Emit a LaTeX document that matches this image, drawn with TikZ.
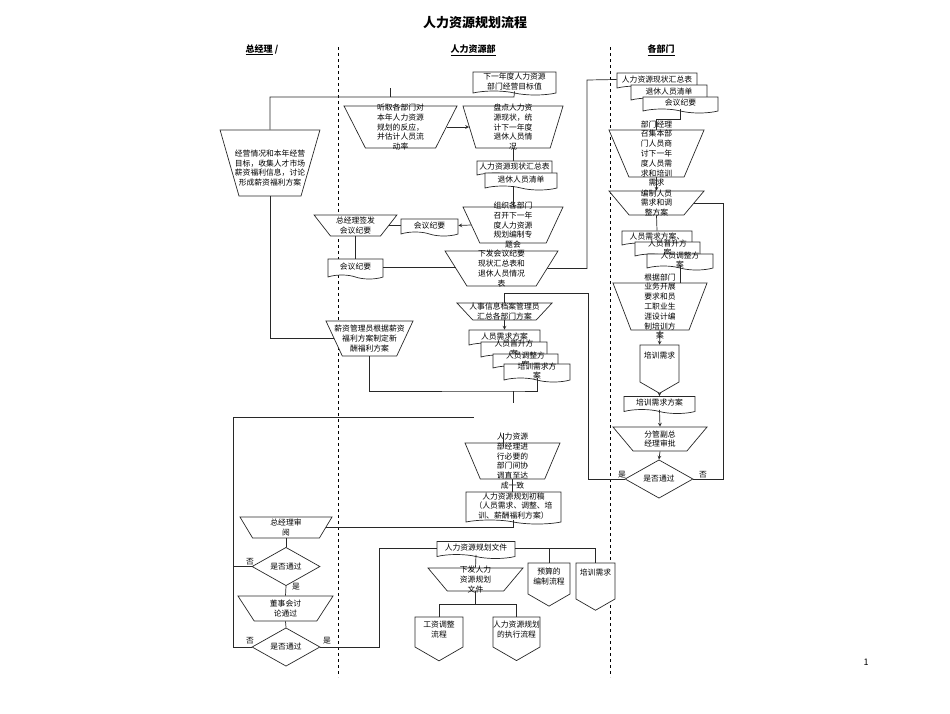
\documentclass[tikz,border=0pt]{standalone}
\usepackage{fontspec}
\setmainfont{Noto Sans CJK SC}
\usetikzlibrary{arrows,shapes,positioning}
\definecolor{lncol}{RGB}{40,40,40}
\tikzstyle{txt} = [font=\fontsize{7.8}{9.8}\selectfont, align=center, inner sep=0pt, text=black]
\tikzstyle{hdr} = [font=\fontsize{9}{11}\selectfont\bfseries, inner sep=0pt]
\tikzstyle{conn} = [line width=0.7pt, draw=lncol]
\tikzstyle{arrow} = [line width=0.7pt, draw=lncol, ->, >=stealth]
\tikzstyle{lane} = [dashed, line width=0.7pt, black]
\tikzstyle{proc} = [trapezium, shape border rotate=180, draw=lncol, fill=white, line width=0.7pt]
\tikzstyle{docu} = [tape, tape bend top=none, tape bend bottom=out and in, tape bend height=4pt, draw=lncol, fill=white, line width=0.7pt, inner sep=0pt, font=\fontsize{7.8}{9.8}\selectfont, align=center]
\tikzstyle{offpage} = [signal, signal to=south, signal from=nowhere, signal pointer angle=120, draw=lncol, fill=white, line width=0.7pt, inner sep=0pt]
\tikzstyle{decide} = [diamond, minimum width=68pt, minimum height=23pt, draw=lncol, fill=white, line width=0.7pt, inner sep=0pt, font=\fontsize{7.8}{9.8}\selectfont]

\begin{document}
\begin{tikzpicture}[x=1pt, y=-1pt]
    \useasboundingbox (0,0) rectangle (950,713);

    % Title and lanes
    \node[font=\fontsize{13}{15}\selectfont\bfseries] (title) at (475,23) {人力资源规划流程};
    \node[hdr] (laneGM) at (262,50) {\underline{总经理} /};
    \node[hdr] (laneHR) at (473,50) {\underline{人力资源部}};
    \node[hdr] (laneDP) at (661,50) {\underline{各部门}};
    \coordinate (sepA1) at (338,47);
    \coordinate (sepA2) at (338,677);
    \coordinate (sepB1) at (610,47);
    \coordinate (sepB2) at (610,677);
    \draw[lane] (sepA1) -- (sepA2);
    \draw[lane] (sepB1) -- (sepB2);
    \node[font=\fontsize{9}{10}\selectfont] (pageno) at (866,662) {1};

    % General manager lane
    \node[proc, inner xsep=31pt, inner ysep=33pt, trapezium angle=74, label={[txt, yshift=-5pt]center:{经营情况和本年经营\\目标，收集人才市场\\薪资福利信息，讨论\\形成薪资福利方案}}] (gmPlan) at (270,163) {};
    \node[proc, inner xsep=25pt, inner ysep=10.5pt, trapezium angle=52, label={[txt]center:{总经理签发\\会议纪要}}] (sign) at (355.5,225.5) {};
    \node[docu, minimum width=55pt, minimum height=20pt] (minDoc2) at (355.5,267) {会议纪要};
    \node[proc, inner xsep=27.2pt, inner ysep=17.5pt, trapezium angle=65, label={[txt]center:{薪资管理员根据薪资\\福利方案制定新\\酬福利方案}}] (salary) at (369.5,338.5) {};
    \node[proc, inner xsep=33.4pt, inner ysep=10.5pt, trapezium angle=59, label={[txt]center:{总经理审\\阅}}] (gmReview) at (286,527.5) {};
    \node[decide] (gmOk1) at (286,566.5) {是否通过};
    \node[proc, inner xsep=31.3pt, inner ysep=12.5pt, trapezium angle=57, label={[txt]center:{董事会讨\\论通过}}] (board) at (285.5,608.5) {};
    \node[decide] (gmOk2) at (286,647) {是否通过};
    \node[txt] (gmNo1) at (250,562) {否};
    \node[txt] (gmYes1) at (296,587) {是};
    \node[txt] (gmNo2) at (250,641) {否};
    \node[txt] (gmYes2) at (327,641) {是};

    % HR lane
    \node[docu, minimum width=83pt, minimum height=23pt] (goalDoc) at (514.5,81.5) {下一年度人力资源\\部门经营目标值};
    \node[proc, inner xsep=35.1pt, inner ysep=21pt, trapezium angle=63, label={[txt]center:{听取各部门对\\本年人力资源\\规划的反应，\\并估计人员流\\动率}}] (listen) at (400.5,127) {};
    \node[proc, inner xsep=37.2pt, inner ysep=21pt, trapezium angle=73, label={[txt]center:{盘点人力资\\源现状，统\\计下一年度\\退休人员情\\况}}] (count) at (513,127) {};
    \node[docu, minimum width=75pt, minimum height=16pt] (curDoc) at (514.5,167) {人力资源现状汇总表};
    \node[docu, minimum width=72pt, minimum height=17pt] (retDoc) at (521,179.5) {退休人员清单};
    \node[proc, inner xsep=33.2pt, inner ysep=18pt, trapezium angle=65, label={[txt]center:{组织各部门\\召开下一年\\度人力资源\\规划编制专\\题会}}] (meet) at (513,225) {};
    \node[docu, minimum width=57pt, minimum height=17pt] (minDoc1) at (429.5,225.5) {会议纪要};
    \node[proc, inner xsep=34.6pt, inner ysep=17.5pt, trapezium angle=58, label={[txt]center:{下发会议纪要\\现状汇总表和\\退休人员情况\\表}}] (issue) at (501.5,268.5) {};
    \node[proc, inner xsep=31.7pt, inner ysep=8.5pt, trapezium angle=47, label={[txt]center:{人事信息档案管理员\\汇总各部门方案}}] (archive) at (504.5,311.5) {};
    \node[docu, minimum width=71pt, minimum height=17pt] (needDoc) at (504.5,336.5) {人员需求方案};
    \node[docu, minimum width=66pt, minimum height=17pt, label={[txt]center:{人员晋升方\\案}}] (promDoc) at (514,348.5) {};
    \node[docu, minimum width=65pt, minimum height=16pt, label={[txt]center:{人员调整方\\案}}] (adjDoc) at (525.5,360) {};
    \node[docu, minimum width=66pt, minimum height=18pt, label={[txt]center:{培训需求方\\案}}] (trainDoc) at (537,371) {};
    \node[proc, inner xsep=32.2pt, inner ysep=18pt, trapezium angle=67, label={[txt]center:{人力资源\\部经理进\\行必要的\\部门间协\\调直至达\\成一致}}] (coord) at (512.5,461) {};
    \node[docu, minimum width=95pt, minimum height=32pt] (draftDoc) at (513.5,506) {人力资源规划初稿\\（人员需求、调整、培\\训、薪酬福利方案）};
    \node[docu, minimum width=78pt, minimum height=17pt] (planDoc) at (476,548) {人力资源规划文件};
    \node[proc, inner xsep=28.2pt, inner ysep=11.5pt, trapezium angle=50, label={[txt]center:{下发人力\\资源规划\\文件}}] (publish) at (475.5,579.5) {};
    \node[offpage, minimum width=48pt, minimum height=30pt, label={[txt, anchor=north, yshift=-4pt]north:{工资调整\\流程}}] (wageFlow) at (439,632) {};
    \node[offpage, minimum width=47pt, minimum height=30pt, label={[txt, anchor=north, yshift=-4pt]north:{人力资源规划\\的执行流程}}] (execFlow) at (516.5,632) {};
    \node[offpage, minimum width=42pt, minimum height=31pt, label={[txt, anchor=north, yshift=-5pt]north:{预算的\\编制流程}}] (budgetFlow) at (549,578.5) {};
    \node[offpage, minimum width=39pt, minimum height=36pt, label={[txt, anchor=north, yshift=-6pt]north:{培训需求}}] (trainFlow) at (595.5,581) {};

    % Department lane
    \node[docu, minimum width=80pt, minimum height=17pt] (curDoc2) at (657,79.5) {人力资源现状汇总表};
    \node[docu, minimum width=76pt, minimum height=17pt] (retDoc2) at (669,91.5) {退休人员清单};
    \node[docu, minimum width=75pt, minimum height=16pt] (minDoc3) at (680.5,103) {会议纪要};
    \node[proc, inner xsep=27.6pt, inner ysep=23.5pt, trapezium angle=67, label={[txt]center:{部门经理\\召集本部\\门人员商\\讨下一年\\度人员需\\求和培训\\需求}}] (deptMeet) at (656.5,153.5) {};
    \node[proc, inner xsep=27.4pt, inner ysep=12pt, trapezium angle=50, label={[txt]center:{编制人员\\需求和调\\整方案}}] (compile) at (656.5,203) {};
    \node[docu, minimum width=70pt, minimum height=16pt] (needDoc2) at (657,237) {人员需求方案、};
    \node[docu, minimum width=65pt, minimum height=16pt, label={[txt]center:{人员晋升方\\案}}] (promDoc2) at (667.5,248) {};
    \node[docu, minimum width=66pt, minimum height=16pt, label={[txt]center:{人员调整方\\案}}] (adjDoc2) at (680,260) {};
    \node[proc, inner xsep=29pt, inner ysep=23.5pt, trapezium angle=69, label={[txt]center:{根据部门\\业务开展\\要求和员\\工职业生\\涯设计编\\制培训方\\案}}] (trainPlan) at (660,306.5) {};
    \node[offpage, minimum width=39pt, minimum height=37pt, label={[txt, anchor=north, yshift=-7pt]north:{培训需求}}] (trainNeed) at (659.5,363.5) {};
    \node[docu, minimum width=71pt, minimum height=17pt] (trainDoc2) at (659.5,403) {培训需求方案};
    \node[proc, inner xsep=26.9pt, inner ysep=12pt, trapezium angle=50, label={[txt]center:{分管副总\\经理审批}}] (approve) at (660,439) {};
    \node[decide] (deptOk) at (659,479) {是否通过};
    \node[txt] (deptYes) at (622,475) {是};
    \node[txt] (deptNo) at (703,475) {否};

    % Connections, upper part
    \coordinate (topRun) at (514,97);
    \coordinate (stubTop) at (390,88);
    \draw[conn] (gmPlan.north) |- (topRun) -- (goalDoc.south);
    \draw[conn] (stubTop) -- (stubTop |- topRun);
    \draw[arrow] (listen.east) -- (count.west);
    \draw[conn] (count.south) -- (count.south |- curDoc.north);
    \draw[conn] (meet.north |- retDoc.south) -- (meet.north);
    \draw[arrow] (meet.west) -- (minDoc1.east);
    \draw[conn] (minDoc1.west) -- (sign.east);
    \draw[conn] (sign.south) -- (minDoc2.north);
    \draw[conn] (minDoc2.east) -- (minDoc2.east -| issue.west);
    \coordinate (hrRise) at (587,80);
    \draw[conn] (issue.east) -| (hrRise) -- (curDoc2.west);

    % Connections, department lane
    \draw[conn] (minDoc3.south) -- ++(0,10) -| (deptMeet.north);
    \draw[arrow] (deptMeet.south) -- (compile.north);
    \draw[conn] (compile.south) -- (needDoc2.north);
    \draw[conn] (adjDoc2.south) -- (adjDoc2.south |- trainPlan.north);
    \draw[arrow] (trainPlan.south) -- (trainNeed.north);
    \draw[arrow] (trainNeed.south) -- (trainDoc2.north);
    \draw[arrow] (trainDoc2.south) -- (approve.north);
    \draw[arrow] (approve.south) -- (deptOk.north);
    \coordinate (noRun) at (723,203);
    \draw[conn] (deptOk.east) -| (noRun) -- (compile.east);
    \coordinate (yesRun) at (588,293);
    \draw[conn] (deptOk.west) -| (yesRun) -| (archive.north);
    \draw[arrow] (archive.south) -- (needDoc.north);

    % Connections, lower part
    \coordinate (hrJoin) at (513,391);
    \coordinate (hrStub) at (513,403);
    \draw[conn] (trainDoc.south) |- (hrJoin) -| (salary.south);
    \draw[conn] (hrJoin) -- (hrStub);
    \draw[conn] (gmPlan.south) |- (salary.west);
    \coordinate (loopCorner) at (233,417);
    \coordinate (loopTop) at (474,417);
    \draw[conn] (gmOk2.west) -| (loopCorner) -- (loopTop);
    \draw[conn] (gmOk1.west) -- (gmOk1.west -| loopCorner);
    \coordinate (coordStubA) at (503,433);
    \coordinate (coordStubB) at (503,447);
    \draw[conn] (coordStubA) -- (coordStubB);
    \draw[conn] (coord.south) -- (coord.south |- draftDoc.north);
    \draw[conn] (draftDoc.south) |- (gmReview.east);
    \draw[conn] (gmReview.south) -- (gmOk1.north);
    \draw[conn] (gmOk1.south) -- (board.north);
    \draw[conn] (board.south) -- (gmOk2.north);
    \coordinate (yesRise) at (379,548);
    \draw[conn] (gmOk2.east) -| (yesRise) -- (planDoc.west);
    \draw[conn] (planDoc.east) -| (trainFlow.north);
    \draw[conn] (planDoc.east -| budgetFlow.north) -- (budgetFlow.north);
    \draw[conn] (planDoc.south) -- (publish.north);
    \draw[conn] (publish.south) -- ++(0,12.5) coordinate (split);
    \draw[conn] (wageFlow.north) |- (split) -| (execFlow.north);
\end{tikzpicture}
\end{document}
